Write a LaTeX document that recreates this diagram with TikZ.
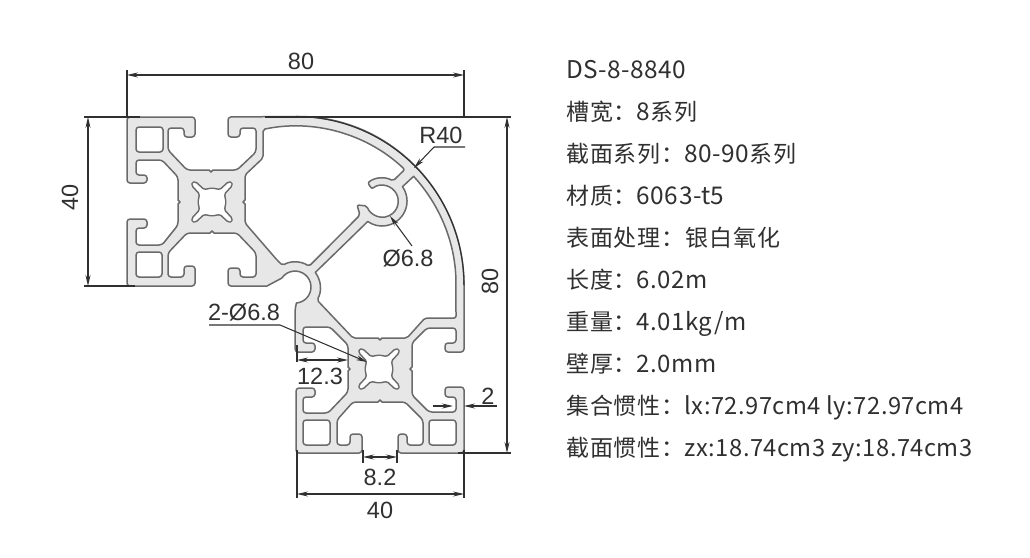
\documentclass[tikz,border=0pt]{standalone}
\usepackage{fontspec}
\setmainfont{Liberation Sans}
\newfontfamily\cjkf[LetterSpace=3.8]{Noto Sans CJK SC}
\newfontfamily\latf[LetterSpace=2.0]{Noto Sans CJK SC}
\newcommand{\La}[2]{{\latf\fontsize{#1}{26}\selectfont #2}}
\usetikzlibrary{arrows.meta}
\definecolor{pedge}{HTML}{6A6A6A}
\definecolor{pfill}{HTML}{E7E7E7}
\definecolor{dimc}{HTML}{303030}
\definecolor{txtc}{HTML}{303030}
\tikzset{
  profile/.style={draw=pedge,fill=pfill,line width=1.5pt,rounded corners=3pt,line join=round},
  voidp/.style={draw=pedge,fill=white,line width=1.5pt,rounded corners=3pt,line join=round},
  keyp/.style={draw=pedge,fill=white,line width=1.4pt,rounded corners=1.5pt,line join=round},
  dimline/.style={draw=dimc,line width=1.05pt},
  dimarrow/.style={dimline,{Stealth[length=11pt,width=5pt]}-{Stealth[length=11pt,width=5pt]}},
  leader/.style={dimline,-{Stealth[length=11pt,width=5pt]}},
  dimtext/.style={font=\fontsize{23.5}{26}\selectfont,text=txtc,inner sep=0pt},
  spec/.style={anchor=base west,font=\cjkf\fontsize{23}{26}\selectfont,text=txtc,inner sep=0pt},
}
\newcommand{\keyhole}[2]{%
  \draw[keyp,shift={(#1,#2)}] (0,-14)--(8,-12.5)--(16,-20)--(20,-20)--(20,-16)--(12.5,-8)--(14,0)--(12.5,8)--(20,16)--(20,20)--(16,20)--(8,12.5)--(0,14)--(-8,12.5)--(-16,20)--(-20,20)--(-20,16)--(-12.5,8)--(-14,0)--(-12.5,-8)--(-20,-16)--(-20,-20)--(-16,-20)--(-8,-12.5)--cycle;}
\newcommand{\squarehole}[4]{\draw[voidp] (#1,#2) rectangle (#3,#4);}
\begin{document}
\begin{tikzpicture}[x=1pt,y=-1pt]
\useasboundingbox (0,0) rectangle (1030,557);
% outer contour
\draw[profile] (127,117) -- (195,117) -- (195,137) -- (184,137) -- (184,128) -- (168,128) -- (168,150) -- (187,170)
  [sharp corners] -- (209,170) -- (211,172) -- (213,170) [rounded corners=3pt] -- (237,170) -- (256,152) -- (256,128) -- (240,128) -- (240,137) -- (228,137) -- (228,117)
  -- (295.5,116.5) [sharp corners] arc[start angle=-90,end angle=0,radius=168.5] -- (464,345) [rounded corners=3pt] -- (464,352) -- (445,352) -- (445,343) -- (456,343) -- (456,328) -- (427,328) -- (412,343)
  [sharp corners] -- (412,367) -- (410,369) -- (412,371) [rounded corners=3pt] -- (412,395) -- (429,412) -- (456,412) -- (456,397) -- (445,397) -- (445,387) -- (464,387) -- (464,453) -- (398,453) -- (398,434) -- (407,434) -- (407,445) -- (423,445) -- (423,420) -- (405,402)
  [sharp corners] -- (382,402) -- (380,400) -- (378,402) [rounded corners=3pt] -- (353,402) -- (337,420) -- (337,445) -- (350,445) -- (350,434) -- (362,434) -- (362,453) -- (296,453) -- (296,388) -- (315,388) -- (315,397) -- (303,397) -- (303,413) -- (328,413) -- (348,392)
  [sharp corners] -- (348,371) -- (350,369) -- (348,367) [rounded corners=3pt] -- (348,345) -- (330,327) -- (303,327) -- (303,343) -- (315,343) -- (315,352) -- (295,352) -- (295,310)
  [sharp corners] -- (296.4,303) arc[start angle=85,end angle=-146,radius=16] -- (267,286) [rounded corners=3pt] -- (228,286) -- (228,268) -- (240,268) -- (240,277) -- (256,277) -- (256,253) -- (237,233)
  [sharp corners] -- (214,233) -- (212,231) -- (210,233) [rounded corners=3pt] -- (187,233) -- (168,253) -- (168,277) -- (184,277) -- (184,266) -- (195,266) -- (195,286) -- (127,286) -- (127,219) -- (147,219) -- (147,228) -- (136,228) -- (136,245) -- (162,245) -- (178,225)
  [sharp corners] -- (178,204) -- (180,202) -- (178,200) [rounded corners=3pt] -- (178,177) -- (162,160) -- (136,160) -- (136,175) -- (147,175) -- (147,183) -- (127,183) -- cycle;
% darker outer arc
\draw[dimc,line width=1.1pt] (295.5,116.5) arc[start angle=-90,end angle=0,radius=168.5];
% void between top-left module and the arc
\draw[voidp,rounded corners=2pt] (263,129.4) arc[start angle=-101.8,end angle=-46.6,radius=159] -- (393,180.9) arc[start angle=-61,end angle=-128,radius=23] -- (372,189) arc[start angle=-130,end angle=163,radius=16] -- (357,205) -- (360,215) -- (309,266.3) arc[start angle=-56,end angle=-120,radius=25] -- (277,260) -- (245,223)
  [sharp corners] -- (245,204) -- (243,202) -- (245,200) [rounded corners=2pt] -- (245,175) -- (263,158) -- cycle;
% void right of the spoke
\draw[voidp,rounded corners=2pt] (413.6,176.3) arc[start angle=-42.6,end angle=0,radius=160.5] -- (456,318) -- (425,318) -- (407,338)
  [sharp corners] -- (382,338) -- (380,340) -- (378,338) [rounded corners=2pt] -- (353,338) -- (317,300) [sharp corners] arc[start angle=30,end angle=-37,radius=25] -- (367.7,221.5) arc[start angle=125,end angle=-35,radius=25] -- cycle;
% corner holes
\squarehole{136}{127}{163}{152}
\squarehole{136}{252}{162}{277}
\squarehole{303}{420}{330}{445}
\squarehole{429}{420}{456}{445}
\keyhole{212}{202}
\keyhole{379}{369}
% anchors of the dimensions
\coordinate (tl) at (127,75); \coordinate (tr) at (464,75);
\coordinate (tlb) at (127,117); \coordinate (trb) at (464,117);
\coordinate (tlt) at (127,70); \coordinate (trt) at (464,70);
\coordinate (lt) at (88,117); \coordinate (lb) at (88,286);
\coordinate (ltl) at (84,117); \coordinate (lbl) at (84,286);
\coordinate (ltr) at (140,117); \coordinate (lbr) at (135,286);
\coordinate (rt) at (507,117); \coordinate (rb) at (507,453);
\coordinate (rtl) at (265,117); \coordinate (rtr) at (511,117);
\coordinate (rbl) at (458,453); \coordinate (rbr) at (511,453);
\coordinate (bl) at (297,494); \coordinate (br) at (464,494);
\coordinate (blt) at (297,450); \coordinate (blb) at (297,498);
\coordinate (brt) at (464,450); \coordinate (brb) at (464,498);
\coordinate (r1) at (465,147); \coordinate (r2) at (434,147); \coordinate (r3) at (414,168);
\coordinate (d1) at (412,246); \coordinate (d2) at (390,216);
\coordinate (t1) at (209,325); \coordinate (t2) at (280,325); \coordinate (t3) at (367,362);
\coordinate (w1) at (297,360); \coordinate (w2) at (348,360);
\coordinate (wt1) at (297,345); \coordinate (wb1) at (297,362);
\coordinate (g1) at (433,406); \coordinate (g2) at (453,406); \coordinate (g3) at (497,406); \coordinate (g4) at (464,406);
\coordinate (s1) at (363,457); \coordinate (s2) at (397,457);
\coordinate (st1) at (363,450); \coordinate (st2) at (363,463);
\coordinate (su1) at (397,450); \coordinate (su2) at (397,463);
% dimension lines
\draw[dimline] (tlt) -- (tlb); \draw[dimline] (trt) -- (trb);
\draw[dimarrow] (tl) -- (tr);
\draw[dimline] (ltl) -- (ltr); \draw[dimline] (lbl) -- (lbr);
\draw[dimarrow] (lt) -- (lb);
\draw[dimline] (rtl) -- (rtr); \draw[dimline] (rbl) -- (rbr);
\draw[dimarrow] (rt) -- (rb);
\draw[dimline] (blt) -- (blb); \draw[dimline] (brt) -- (brb);
\draw[dimarrow] (bl) -- (br);
\draw[leader] (r1) -- (r2) -- (r3);
\draw[leader] (d1) -- (d2);
\draw[leader] (t1) -- (t2) -- (t3);
\draw[dimline] (wt1) -- (wb1);
\draw[dimarrow] (w1) -- (w2);
\draw[leader] (g1) -- (g2);
\draw[leader] (g3) -- (g4);
\draw[dimline] (st1) -- (st2); \draw[dimline] (su1) -- (su2);
\draw[dimarrow] (s1) -- (s2);
% dimension texts
\node[dimtext] (n80t) at (301,61) {80};
\node[dimtext,rotate=90] (n40l) at (70,197) {40};
\node[dimtext,rotate=90] (n80r) at (490,281) {80};
\node[dimtext] (n40b) at (380,510) {40};
\node[dimtext] (nr40) at (441,135) {R40};
\node[dimtext] (nd68) at (408,258) {Ø6.8};
\node[dimtext] (n2d68) at (244,312) {2-Ø6.8};
\node[dimtext] (n123) at (320,376) {12.3};
\node[dimtext] (n2) at (488,396) {2};
\node[dimtext] (n82) at (380,477) {8.2};
% specification list
\node[spec] (s01) at (566,78) {\La{24.4}{DS-8-8840}};
\node[spec] (s02) at (566,120) {槽宽：\La{24.4}{8}系列};
\node[spec] (s03) at (566,162) {截面系列：\La{24.4}{80-90}系列};
\node[spec] (s04) at (566,204) {材质：\La{24.4}{6063-t5}};
\node[spec] (s05) at (566,246) {表面处理：银白氧化};
\node[spec] (s06) at (566,288) {长度：\La{24}{6.02m}};
\node[spec] (s07) at (566,330) {重量：\La{24}{4.01kg/m}};
\node[spec] (s08) at (566,372) {壁厚：\La{24}{2.0mm}};
\node[spec] (s09) at (566,414) {集合惯性：\La{23.7}{lx:72.97cm4 ly:72.97cm4}};
\node[spec] (s10) at (566,456) {截面惯性：\La{23.7}{zx:18.74cm3 zy:18.74cm3}};
\end{tikzpicture}
\end{document}
